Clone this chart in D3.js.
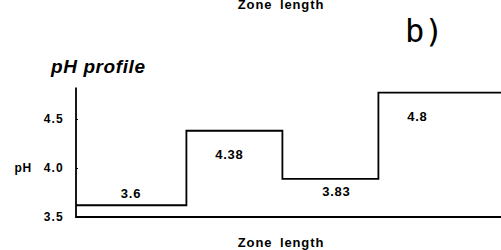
<!DOCTYPE html>
<html><head><meta charset="utf-8">
<script src="https://cdn.jsdelivr.net/npm/d3@7"></script>
<style>body{margin:0;background:#fff}svg{display:block}text{font-family:"Liberation Sans",Arial,sans-serif;fill:#000}</style>
</head><body>
<script>
const zoneEdges = [0, 1.15, 2.15, 3.15, 4.45];
const levels = [3.62, 4.38, 3.89, 4.77];
const labels = ["3.6", "4.38", "3.83", "4.8"];
const yTicks = [3.5, 4.0, 4.5];
const yTickLabels = ["3.5", "4.0", "4.5"];
const xTitle = "Zone length";
const yTitle = "pH";
const chartTitle = "pH profile";
const panelLabel = "b)";

const W = 501, H = 250;
const svg = d3.select("body").append("svg").attr("width", W).attr("height", H);
const x0 = 76, yBase = 217;
const x = d3.scaleLinear().domain([0, 1]).range([x0, x0 + 96]);
const y = d3.scaleLinear().domain([3.5, 4.5]).range([yBase, yBase - 98]);

// cut-off title of the panel above, at the very top
svg.append("text").attr("x", 281).attr("y", 9).attr("text-anchor", "middle")
  .attr("font-size", 13).attr("font-weight", "bold").attr("letter-spacing", 0.9)
  .attr("word-spacing", 3).text(xTitle);

svg.append("text").attr("x", 405).attr("y", 42)
  .style("font-family", "'DejaVu Sans Mono',monospace").attr("font-size", 32)
  .attr("font-weight", "200").text(panelLabel);

svg.append("text").attr("x", 51).attr("y", 73)
  .attr("font-size", 19).attr("font-weight", "bold").attr("font-style", "italic")
  .attr("letter-spacing", 0.6).text(chartTitle);

// y axis
const yAxis = d3.axisLeft(y).tickValues(yTicks).tickSize(-2).tickFormat((d, i) => yTickLabels[i]);
const ga = svg.append("g").attr("transform", `translate(${x0},0)`).call(yAxis);
ga.select(".domain").remove();
ga.selectAll(".tick line").attr("stroke", "#000").attr("stroke-width", 1.2);
ga.selectAll(".tick text").attr("x", -12).attr("font-size", 12).attr("font-weight", "bold")
  .attr("letter-spacing", 1.2)
  .style("font-family", "'Liberation Sans',Arial,sans-serif").attr("fill", "#000");

svg.append("line").attr("x1", x0).attr("x2", x0).attr("y1", y(4.8) - 2).attr("y2", yBase + 1)
  .attr("stroke", "#000").attr("stroke-width", 1.8);
svg.append("line").attr("x1", x0).attr("x2", W).attr("y1", yBase).attr("y2", yBase)
  .attr("stroke", "#000").attr("stroke-width", 1.8);

svg.append("text").attr("x", 32).attr("y", y(4.0)).attr("dy", "0.35em").attr("text-anchor", "end")
  .attr("font-size", 12).attr("font-weight", "bold").attr("letter-spacing", 0.8).text(yTitle);

// step profile
const pts = [];
levels.forEach((v, i) => { pts.push([zoneEdges[i], v]); pts.push([zoneEdges[i + 1], v]); });
svg.append("path").datum(pts)
  .attr("d", d3.line().x(d => x(d[0])).y(d => y(d[1])))
  .attr("fill", "none").attr("stroke", "#000").attr("stroke-width", 1.8);

// value labels (offsets are layout only)
const labelDx = [55, 43, 54, 39];
const labelDy = [-12, 24, 13, 24];
svg.selectAll("text.val").data(levels).enter().append("text").attr("class", "val")
  .attr("x", (d, i) => x(zoneEdges[i]) + labelDx[i])
  .attr("y", (d, i) => y(d) + labelDy[i])
  .attr("dy", "0.35em").attr("text-anchor", "middle")
  .attr("font-size", 13).attr("font-weight", "bold").attr("letter-spacing", 0.8)
  .text((d, i) => labels[i]);

svg.append("text").attr("x", 281).attr("y", 247).attr("text-anchor", "middle")
  .attr("font-size", 13).attr("font-weight", "bold").attr("letter-spacing", 0.9)
  .attr("word-spacing", 3).text(xTitle);
</script>
</body></html>
